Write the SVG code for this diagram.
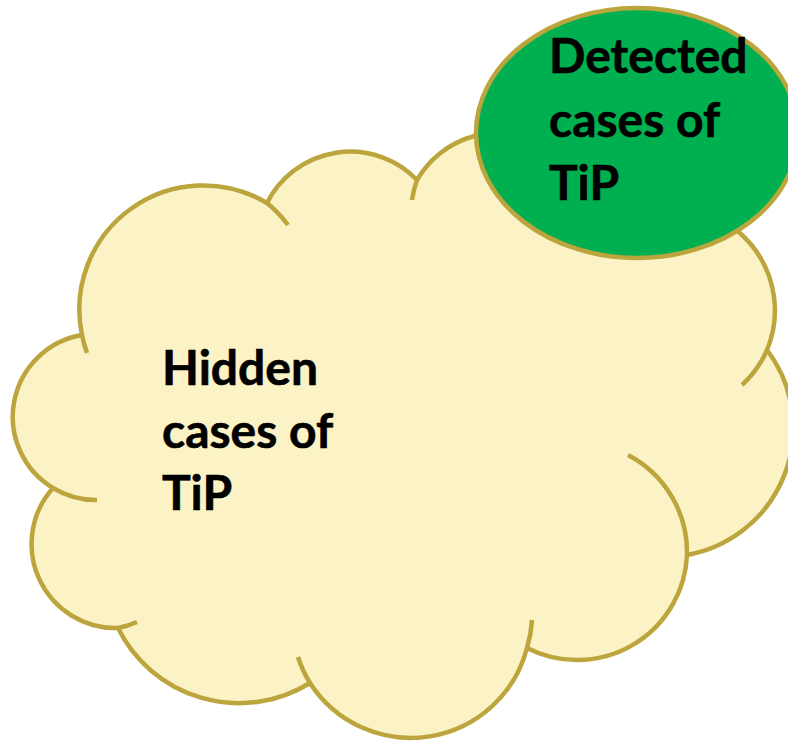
<svg xmlns="http://www.w3.org/2000/svg" width="788" height="744" viewBox="0 0 788 744">
  <style>
    .outline { stroke: #BCA53D; stroke-width: 4.5; stroke-linecap: butt; stroke-linejoin: round; }
    .hook { fill: none; stroke: #BCA53D; stroke-width: 4.5; }
    .lbl { font-family: Lato, "Open Sans", "Liberation Sans", sans-serif; font-weight: bold; font-size: 48px; fill: #000000; stroke: #000000; stroke-width: 0.6; }
  </style>
  <rect width="788" height="744" fill="#FFFFFF"/>
  <g id="hidden-cases">
    <path class="outline" fill="#FBF3C5" d="M82,335 A83,83 0 0 0 53,488 A84,84 0 0 0 118,628 A135,135 0 0 0 310,683 A120,120 0 0 0 527,648 A110,110 0 0 0 687,555 A129,129 0 0 0 767,350 A103,103 0 0 0 654,209 L546,145 A95,95 0 0 0 417,180 A93,93 0 0 0 267,203 A124,124 0 0 0 82,335 Z"/>
    <path class="hook" d="M267,203 A124,124 0 0 1 288,225"/>
    <path class="hook" d="M82,335 A124,124 0 0 0 87,353"/>
    <path class="hook" d="M417,180 A95,95 0 0 0 412,200"/>
    <path class="hook" d="M767,350 A103,103 0 0 1 742,385"/>
    <path class="hook" d="M53,488 A83,83 0 0 0 97,500"/>
    <path class="hook" d="M118,628 A84,84 0 0 0 137,622"/>
    <path class="hook" d="M310,683 A120,120 0 0 1 298,657"/>
    <path class="hook" d="M527,648 A120,120 0 0 0 532,620"/>
    <path class="hook" d="M687,555 A110,110 0 0 0 628,455"/>
    <text class="lbl" x="162" y="385">Hidden</text>
    <text class="lbl" x="162" y="448">cases of</text>
    <text class="lbl" x="162" y="510">TiP</text>
  </g>
  <g id="detected-cases">
    <ellipse cx="637" cy="133" rx="161" ry="125" fill="#00B050" stroke="#BCA53D" stroke-width="4.5"/>
    <text class="lbl" x="549" y="73">Detected</text>
    <text class="lbl" x="549" y="137">cases of</text>
    <text class="lbl" x="549" y="200">TiP</text>
  </g>
  <g id="connectors"/>
</svg>
